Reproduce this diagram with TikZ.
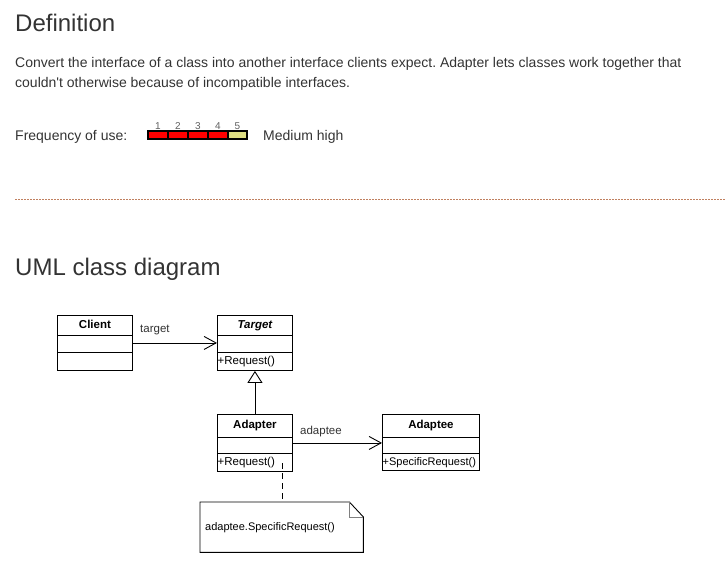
\documentclass[tikz,border=0pt]{standalone}
\usepackage{fontspec}
\setmainfont{Liberation Sans}
\usetikzlibrary{arrows.meta}
\definecolor{txt}{HTML}{333333}
\definecolor{barred}{HTML}{FF0000}
\definecolor{baryel}{HTML}{DEDE82}
\definecolor{dotc}{HTML}{C08060}
\definecolor{digit}{HTML}{606060}
\newcommand\hfont{\fontsize{24}{28}\selectfont}
\newcommand\pfont{\fontsize{14}{20}\selectfont}
\newcommand\cfont{\fontsize{11.5}{13}\selectfont}
\newcommand\nfont{\fontsize{11}{13}\selectfont}
\newcommand\dfont{\fontsize{10}{11}\selectfont}
\frenchspacing
\begin{document}
\begin{tikzpicture}[x=1pt,y=-1pt,
  txtnode/.style={anchor=base west, inner sep=0, text=txt},
  cls/.style={draw, line width=0.9pt, anchor=north west, inner sep=0},
  cell/.style={anchor=north west, inner sep=0, minimum height=5.5pt},
  dig/.style={anchor=base, inner sep=0, text=digit, font=\dfont},
  ctitle/.style={anchor=base, inner sep=0, font=\cfont\bfseries},
  cmeth/.style={anchor=base west, inner sep=0, font=\cfont},
  lbl/.style={anchor=base west, inner sep=0, font=\cfont, text=txt},
  assoc/.style={line width=0.9pt, -{Straight Barb[length=12pt,width=13pt]}},
  inherit/.style={line width=0.9pt, -{Triangle[open,length=12pt,width=15pt]}}
]
\useasboundingbox (0,0) rectangle (725,575);

% header texts
\node[txtnode, font=\hfont] (h1) at (15,32) {Definition};
\node[txtnode, font=\pfont] (p1) at (15,68) {Convert the interface of a class into another interface clients expect. Adapter lets classes work together that};
\node[txtnode, font=\pfont] (p2) at (15,88) {couldn\textquotesingle t otherwise because of incompatible interfaces.};
\node[txtnode, font=\pfont] (freq) at (15,140) {Frequency of use:};

% frequency bar
\node[fill=black, anchor=north west, inner sep=0, minimum width=101pt, minimum height=9.5pt] (bar) at (147,130) {};
\node[cell, fill=barred, minimum width=18pt] (c1) at (149,132) {};
\node[cell, fill=barred, minimum width=18pt] (c2) at (169,132) {};
\node[cell, fill=barred, minimum width=18pt] (c3) at (189,132) {};
\node[cell, fill=barred, minimum width=18pt] (c4) at (209,132) {};
\node[cell, fill=baryel, minimum width=17pt] (c5) at (229,132) {};
\node[dig] (d1) at (158,129) {1};
\node[dig] (d2) at (178,129) {2};
\node[dig] (d3) at (198,129) {3};
\node[dig] (d4) at (218,129) {4};
\node[dig] (d5) at (237.5,129) {5};
\node[txtnode, font=\pfont] (med) at (263,140) {Medium high};

% dotted separator
\coordinate (sepA) at (15,199);
\coordinate (sepB) at (725,199);
\draw[dotc, line width=1pt, dash pattern=on 1.5pt off 1.5pt] (sepA) -- (sepB);

\node[txtnode, font=\hfont] (h2) at (15,275) {UML class diagram};

% classes
\node[cls, minimum width=75pt, minimum height=55pt] (client) at (57,315) {};
\node[cls, minimum width=75pt, minimum height=55pt] (target) at (217,315) {};
\node[cls, minimum width=75pt, minimum height=57pt] (adapter) at (217,414) {};
\node[cls, minimum width=97pt, minimum height=56pt] (adaptee) at (382,414) {};

\foreach \c/\a/\b in {client/20.5/37, target/20/37, adapter/23/39.5, adaptee/23/39.5}{
  \draw[line width=0.9pt] ([yshift=-\a pt]\c.north west) -- ([yshift=-\a pt]\c.north east);
  \draw[line width=0.9pt] ([yshift=-\b pt]\c.north west) -- ([yshift=-\b pt]\c.north east);
}

\node[ctitle] (clientT) at ([yshift=-13pt]client.north) {Client};
\node[ctitle, font=\cfont\bfseries\itshape] (targetT) at ([yshift=-13pt]target.north) {Target};
\node[ctitle] (adapterT) at ([yshift=-14pt]adapter.north) {Adapter};
\node[ctitle] (adapteeT) at ([yshift=-14pt]adaptee.north) {Adaptee};
\node[cmeth] (targetM) at ([xshift=0.5pt,yshift=-49pt]target.north west) {+Request()};
\node[cmeth] (adapterM) at ([xshift=0.5pt,yshift=-51pt]adapter.north west) {+Request()};
\node[cmeth, font=\nfont] (adapteeM) at ([xshift=0.5pt,yshift=-51pt]adaptee.north west) {+SpecificRequest()};

% connectors
\draw[assoc] (client) -- (target);
\node[lbl] (lt) at (140,332) {target};
\draw[assoc] (adapter.east) -- (adapter.east -| adaptee.west);
\node[lbl] (la) at (300,434) {adaptee};
\draw[inherit] (adapter.north) -- (target.south);

% note
\node[anchor=north west, inner sep=0, minimum width=163pt, minimum height=50pt] (note) at (200,502) {};
\draw[line width=0.9pt] (note.north west) -- ([xshift=-14pt]note.north east) -- ([yshift=-15pt]note.north east) -- (note.south east) -- (note.south west) -- cycle;
\draw[line width=0.9pt, gray] ([xshift=-14pt]note.north east) |- ([yshift=-15pt]note.north east);
\node[anchor=base west, inner sep=0, font=\nfont] (notetext) at (205,530) {adaptee.SpecificRequest()};
\coordinate (ds) at (282,463);
\draw[line width=0.9pt, dash pattern=on 6pt off 4pt] (ds) -- (ds |- note.north);
\end{tikzpicture}
\end{document}
